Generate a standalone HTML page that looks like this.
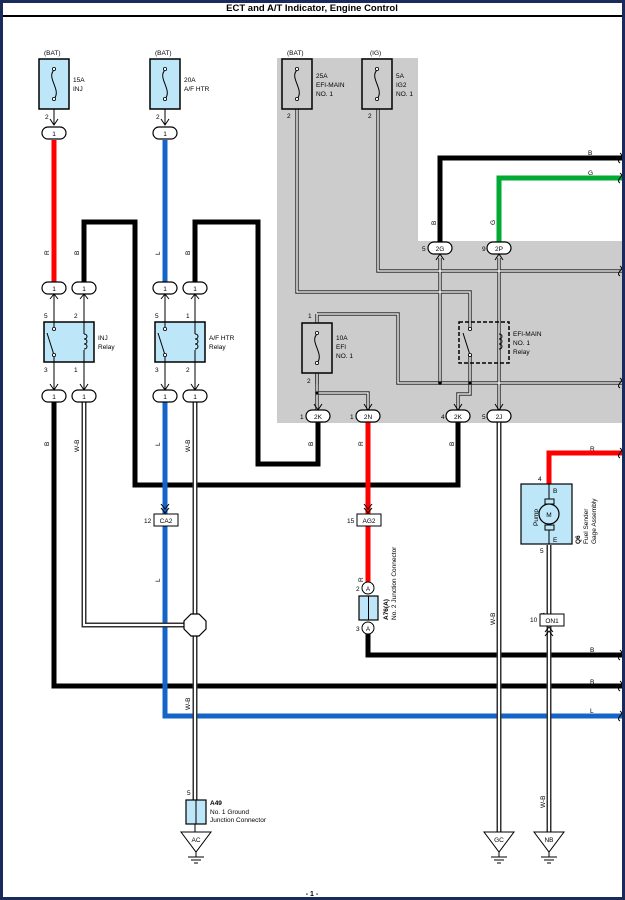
<!DOCTYPE html>
<html><head><style>
body{margin:0;background:#fff}
svg{display:block;font-family:"Liberation Sans",Arial,sans-serif}
</style></head><body>
<svg width="625" height="900" viewBox="0 0 625 900" xmlns="http://www.w3.org/2000/svg">
<defs>
<marker id="ar" markerWidth="8" markerHeight="8" refX="4" refY="7" orient="auto-start-reverse" markerUnits="userSpaceOnUse"><path d="M0.5,3 L4,7 L7.5,3" fill="none" stroke="#000" stroke-width="1.3"/></marker>
</defs>
<rect x="1.5" y="1.5" width="622" height="897" fill="#fff" stroke="#1a2a5a" stroke-width="3"/>
<text x="312" y="11" font-size="9.5" font-weight="bold" text-anchor="middle">ECT and A/T Indicator, Engine Control</text>
<line x1="3" y1="16" x2="622" y2="16" stroke="#000" stroke-width="2"/>
<!-- gray region -->
<path d="M277,58 H418 V241 H622 V423 H277 Z" fill="#cccccc"/>

<g font-size="6.5">
<!-- thick wires -->
<g fill="none" stroke-linejoin="miter">
<path d="M54,140 V282" stroke="#f00" stroke-width="5"/>
<path d="M165,140 V282" stroke="#1565c8" stroke-width="5"/>
<path d="M84,282 V222 H135 V485 H458 V422" stroke="#000" stroke-width="5"/>
<path d="M195,282 V222 H258 V464 H318 V422" stroke="#000" stroke-width="5"/>
<path d="M440,242 V158 H622" stroke="#000" stroke-width="5"/>
<path d="M499,242 V178 H622" stroke="#0a3" stroke-width="5"/>
<path d="M54,402 V686 H622" stroke="#000" stroke-width="5"/>
<path d="M165,402 V716 H622" stroke="#1565c8" stroke-width="5"/>
<path d="M368,422 V587" stroke="#f00" stroke-width="5"/>
<path d="M368,628 V655 H622" stroke="#000" stroke-width="5"/>
<path d="M549,484 V453 H622" stroke="#f00" stroke-width="5"/>
<!-- W-B double wires -->
<g stroke="#333" stroke-width="5"><path d="M84,402 V625 H195"/><path d="M195,402 V805"/><path d="M499,422 V832"/><path d="M549,545 V832"/></g>
<g stroke="#fff" stroke-width="2"><path d="M84,402 V625 H195"/><path d="M195,402 V805"/><path d="M499,422 V832"/><path d="M549,545 V832"/></g>
<line x1="195" y1="818" x2="195" y2="832" stroke="#000" stroke-width="1"/>
<!-- thin wires in gray area -->
<g stroke="#333" stroke-width="3.5"><path d="M297,100 V292 H470 V330"/><path d="M378,100 V271 H622"/><path d="M317,374 V384"/><path d="M317,314 H398 V383 H622"/><path d="M440,258 V383"/><path d="M499,258 V410"/><path d="M470,355 V394 H458 V410"/><path d="M317,360 V410"/><path d="M317,393 H368 V410"/><path d="M317,314 V340"/></g>
<g stroke="#fff" stroke-width="1.3"><path d="M297,100 V292 H470 V330"/><path d="M378,100 V271 H622"/><path d="M317,314 H398 V383 H622"/><path d="M440,258 V383"/><path d="M499,258 V410"/><path d="M470,355 V394 H458 V410"/><path d="M317,360 V410"/><path d="M317,393 H368 V410"/><path d="M317,314 V340"/></g>
</g>
<circle cx="440" cy="383" r="1.8"/><circle cx="470" cy="383" r="1.8"/><circle cx="317" cy="393" r="1.6"/>
<!-- arrows -->
<g stroke="#000" stroke-width="1" fill="none">
<path d="M54,108 V124 M50,119 L54,125 L58,119"/>
<path d="M165,108 V124 M161,119 L165,125 L169,119"/>
<path d="M54,294 V322 M50,299 L54,294 L58,299 M54,362 V389 M50,384 L54,390 L58,384"/>
<path d="M84,294 V322 M80,299 L84,294 L88,299 M84,362 V389 M80,384 L84,390 L88,384"/>
<path d="M165,294 V322 M161,299 L165,294 L169,299 M165,362 V389 M161,384 L165,390 L169,384"/>
<path d="M195,294 V322 M191,299 L195,294 L199,299 M195,362 V389 M191,384 L195,390 L199,384"/>
<path d="M314,404 L318,410 L322,404 M364,404 L368,410 L372,404 M454,404 L458,410 L462,404 M495,404 L499,410 L503,404 M436,260 L440,254 L444,260 M495,260 L499,254 L503,260"/>
<path d="M161,508 L165,513 L169,508 M161,504 L165,509 L169,504 M364,508 L368,513 L372,508 M364,504 L368,509 L372,504 M545,632 L549,627 L553,632 M545,636 L549,631 L553,636"/>
</g>
<!-- fuses -->
<g stroke="#000" stroke-width="1.5">
<rect x="39" y="59" width="30" height="50" fill="#bde6f8"/>
<rect x="150" y="59" width="30" height="50" fill="#bde6f8"/>
<rect x="282" y="59" width="30" height="50" fill="#ccc"/>
<rect x="362" y="59" width="30" height="50" fill="#ccc"/>
<rect x="302" y="323" width="30" height="50" fill="#ccc"/>
</g>
<g fill="none" stroke="#000" stroke-width="1">
<path d="M54,70 C46,78 62,90 54,99"/><path d="M165,70 C157,78 173,90 165,99"/><path d="M297,70 C289,78 305,90 297,99"/><path d="M377,70 C369,78 385,90 377,99"/><path d="M317,334 C309,342 325,354 317,363"/>
</g>
<g fill="#fff" stroke="#000" stroke-width="0.8"><circle cx="54" cy="69" r="1.6"/><circle cx="54" cy="99" r="1.6"/><circle cx="165" cy="69" r="1.6"/><circle cx="165" cy="99" r="1.6"/><circle cx="297" cy="69" r="1.6"/><circle cx="297" cy="99" r="1.6"/><circle cx="377" cy="69" r="1.6"/><circle cx="377" cy="99" r="1.6"/><circle cx="317" cy="333" r="1.6"/><circle cx="317" cy="363" r="1.6"/></g>
<text x="44" y="55">(BAT)</text><text x="155" y="55">(BAT)</text><text x="287" y="55">(BAT)</text><text x="370" y="55">(IG)</text>
<text x="73" y="82">15A</text><text x="73" y="91">INJ</text>
<text x="184" y="82">20A</text><text x="184" y="91">A/F HTR</text>
<text x="316" y="78">25A</text><text x="316" y="87">EFI-MAIN</text><text x="316" y="96">NO. 1</text>
<text x="396" y="78">5A</text><text x="396" y="87">IG2</text><text x="396" y="96">NO. 1</text>
<text x="336" y="340">10A</text><text x="336" y="349">EFI</text><text x="336" y="358">NO. 1</text>
<text x="45" y="119">2</text><text x="156" y="119">2</text><text x="287" y="118">2</text><text x="368" y="118">2</text>
<text x="308" y="318">1</text><text x="307" y="383">2</text>
<!-- relays -->
<g stroke="#000" stroke-width="1.5"><rect x="44" y="322" width="50" height="40" fill="#bde6f8"/><rect x="155" y="322" width="50" height="40" fill="#bde6f8"/></g>
<rect x="459" y="322" width="50" height="41" fill="none" stroke="#000" stroke-width="1.5" stroke-dasharray="4,2"/>
<g fill="none" stroke="#000" stroke-width="1">
<path d="M54,322 V328 M54,356 V362 M54,355 L47,333"/><path d="M84,322 V334 M84,350 V362 M84,334 c4,0 4,5 0,5 c4,0 4,5 0,5 c4,0 4,5 0,5"/>
<path d="M165,322 V328 M165,356 V362 M165,355 L158,333"/><path d="M195,322 V334 M195,350 V362 M195,334 c4,0 4,5 0,5 c4,0 4,5 0,5 c4,0 4,5 0,5"/>
<path d="M470,355 L463,333"/><path d="M499,334 c4,0 4,5 0,5 c4,0 4,5 0,5 c4,0 4,5 0,5"/>
</g>
<g fill="#fff" stroke="#000" stroke-width="0.8"><circle cx="54" cy="329" r="1.6"/><circle cx="54" cy="355" r="1.6"/><circle cx="165" cy="329" r="1.6"/><circle cx="165" cy="355" r="1.6"/><circle cx="470" cy="329" r="1.6"/><circle cx="470" cy="355" r="1.6"/></g>
<text x="98" y="340">INJ</text><text x="98" y="349">Relay</text>
<text x="209" y="340">A/F HTR</text><text x="209" y="349">Relay</text>
<text x="513" y="336">EFI-MAIN</text><text x="513" y="345">NO. 1</text><text x="513" y="354">Relay</text>
<text x="44" y="318">5</text><text x="74" y="318">2</text><text x="155" y="318">5</text><text x="186" y="318">1</text>
<text x="44" y="372">3</text><text x="74" y="372">1</text><text x="155" y="372">3</text><text x="186" y="372">2</text>
<!-- connector ovals -->
<g fill="#fff" stroke="#000" stroke-width="1.2">
<rect x="42" y="127" width="24" height="12" rx="6"/><rect x="153" y="127" width="24" height="12" rx="6"/>
<rect x="42" y="282" width="24" height="12" rx="6"/><rect x="72" y="282" width="24" height="12" rx="6"/><rect x="153" y="282" width="24" height="12" rx="6"/><rect x="183" y="282" width="24" height="12" rx="6"/>
<rect x="42" y="390" width="24" height="12" rx="6"/><rect x="72" y="390" width="24" height="12" rx="6"/><rect x="153" y="390" width="24" height="12" rx="6"/><rect x="183" y="390" width="24" height="12" rx="6"/>
<rect x="306" y="410" width="24" height="12" rx="6"/><rect x="356" y="410" width="24" height="12" rx="6"/><rect x="446" y="410" width="24" height="12" rx="6"/><rect x="487" y="410" width="24" height="12" rx="6"/>
<rect x="428" y="242" width="24" height="12" rx="6"/><rect x="487" y="242" width="24" height="12" rx="6"/>
</g>
<g text-anchor="middle"><text x="54" y="136">1</text><text x="165" y="136">1</text>
<text x="54" y="291">1</text><text x="84" y="291">1</text><text x="165" y="291">1</text><text x="195" y="291">1</text>
<text x="54" y="399">1</text><text x="84" y="399">1</text><text x="165" y="399">1</text><text x="195" y="399">1</text>
<text x="318" y="419">2K</text><text x="368" y="419">2N</text><text x="458" y="419">2K</text><text x="499" y="419">2J</text>
<text x="440" y="251">2G</text><text x="499" y="251">2P</text></g>
<text x="300" y="419">1</text><text x="350" y="419">1</text><text x="441" y="419">4</text><text x="482" y="419">5</text><text x="422" y="251">5</text><text x="482" y="251">9</text>
<!-- wire labels rotated -->
<g>
<text transform="translate(49,255) rotate(-90)">R</text><text transform="translate(79,255) rotate(-90)">B</text>
<text transform="translate(160,255) rotate(-90)">L</text><text transform="translate(190,255) rotate(-90)">B</text>
<text transform="translate(436,225) rotate(-90)">B</text><text transform="translate(495,225) rotate(-90)">G</text>
<text transform="translate(49,446) rotate(-90)">B</text><text transform="translate(79,452) rotate(-90)">W-B</text>
<text transform="translate(160,446) rotate(-90)">L</text><text transform="translate(190,452) rotate(-90)">W-B</text>
<text transform="translate(313,446) rotate(-90)">B</text><text transform="translate(363,446) rotate(-90)">R</text><text transform="translate(454,446) rotate(-90)">B</text>
<text transform="translate(160,582) rotate(-90)">L</text><text transform="translate(363,582) rotate(-90)">R</text>
<text transform="translate(190,710) rotate(-90)">W-B</text><text transform="translate(495,625) rotate(-90)">W-B</text>
<text transform="translate(545,625) rotate(-90)">W-B</text><text transform="translate(545,808) rotate(-90)">W-B</text>
</g>
<text x="588" y="155">B</text><text x="588" y="175">G</text><text x="590" y="451">R</text><text x="590" y="652">B</text><text x="590" y="684">B</text><text x="590" y="713">L</text>
<!-- break marks -->
<g fill="none" stroke="#000" stroke-width="1"><path d="M620,153 q3,2 0,5 q-3,3 0,5"/><path d="M620,173 q3,2 0,5 q-3,3 0,5"/><path d="M620,266 q3,2 0,5 q-3,3 0,5"/><path d="M620,378 q3,2 0,5 q-3,3 0,5"/><path d="M620,448 q3,2 0,5 q-3,3 0,5"/><path d="M620,650 q3,2 0,5 q-3,3 0,5"/><path d="M620,681 q3,2 0,5 q-3,3 0,5"/><path d="M620,711 q3,2 0,5 q-3,3 0,5"/></g>
<!-- CA2, AG2, ON1 -->
<g fill="#fff" stroke="#000" stroke-width="1"><rect x="154" y="514" width="24" height="12"/><rect x="357" y="514" width="24" height="12"/><rect x="540" y="614" width="24" height="12"/></g>
<text x="166" y="523" text-anchor="middle">CA2</text><text x="369" y="523" text-anchor="middle">AG2</text><text x="552" y="623" text-anchor="middle">ON1</text>
<text x="144" y="523">12</text><text x="347" y="523">15</text><text x="530" y="622">10</text>
<!-- octagon -->
<polygon points="191,614 199,614 206,621 206,629 199,636 191,636 184,629 184,621" fill="#fff" stroke="#000" stroke-width="1.2"/>
<!-- A76 -->
<rect x="359" y="596" width="19" height="24" fill="#bde6f8" stroke="#000" stroke-width="1.2"/><line x1="368.5" y1="596" x2="368.5" y2="620" stroke="#000"/>
<g fill="#fff" stroke="#000"><circle cx="368" cy="588" r="6"/><circle cx="368" cy="628" r="6"/></g>
<text x="368" y="591" text-anchor="middle" font-size="6">A</text><text x="368" y="631" text-anchor="middle" font-size="6">A</text>
<text x="356" y="591">2</text><text x="356" y="631">3</text>
<text transform="translate(388,620) rotate(-90)" font-weight="bold">A76(A)</text>
<text transform="translate(396,620) rotate(-90)">No. 2 Junction Connector</text>
<!-- pump -->
<rect x="521" y="484" width="51" height="60" fill="#bde6f8" stroke="#000" stroke-width="1.2"/>
<line x1="549" y1="484" x2="549" y2="544" stroke="#000"/>
<rect x="545" y="499" width="9" height="5" fill="#bde6f8" stroke="#000"/><rect x="545" y="525" width="9" height="5" fill="#bde6f8" stroke="#000"/>
<circle cx="549" cy="514" r="10" fill="#bde6f8" stroke="#000" stroke-width="1.2"/>
<text x="549" y="517" text-anchor="middle">M</text>
<text x="553" y="493">B</text><text x="553" y="542">E</text>
<text transform="translate(538,526) rotate(-90)">Pump</text>
<text x="538" y="481">4</text><text x="540" y="553">5</text>
<text transform="translate(580,544) rotate(-90)" font-weight="bold">Q6</text>
<text transform="translate(588,544) rotate(-90)">Fuel Sender</text>
<text transform="translate(596,544) rotate(-90)">Gage Assembly</text>
<!-- A49 -->
<rect x="186" y="800" width="20" height="24" fill="#bde6f8" stroke="#000" stroke-width="1.2"/><line x1="196" y1="800" x2="196" y2="824" stroke="#000"/>
<text x="187" y="795">5</text>
<text x="210" y="805" font-weight="bold">A49</text><text x="210" y="814">No. 1 Ground</text><text x="210" y="822">Junction Connector</text>
<!-- grounds -->
<g fill="#fff" stroke="#000" stroke-width="1">
<path d="M181,832 H211 L196,852 Z"/><path d="M484,832 H514 L499,852 Z"/><path d="M534,832 H564 L549,852 Z"/>
</g>
<g stroke="#000" stroke-width="1"><path d="M196,852 V857 M188,857 H204 M191,860 H201 M194,863 H198"/><path d="M499,852 V857 M491,857 H507 M494,860 H504 M497,863 H501"/><path d="M549,852 V857 M541,857 H557 M544,860 H554 M547,863 H551"/></g>
<text x="196" y="842" text-anchor="middle">AC</text><text x="499" y="842" text-anchor="middle">GC</text><text x="549" y="842" text-anchor="middle">NB</text>
<text x="312" y="896" text-anchor="middle" font-weight="bold" font-size="7">- 1 -</text>
</g>
</svg>
</body></html>
